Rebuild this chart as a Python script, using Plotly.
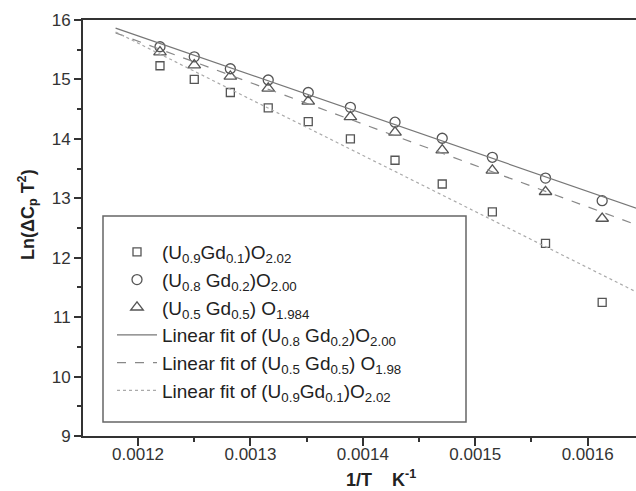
import numpy as np
import plotly.graph_objects as go

# inverse temperature (1/T, K^-1)
inv_T = [0.0012195, 0.0012500, 0.0012821, 0.0013158, 0.0013514, 0.0013889,
         0.0014286, 0.0014706, 0.0015152, 0.0015625, 0.0016129]

# Ln(dCp T^2)
y_gd01 = [15.23, 15.00, 14.78, 14.52, 14.29, 14.00, 13.64, 13.24, 12.77, 12.24, 11.25]
y_gd02 = [15.55, 15.38, 15.18, 14.99, 14.78, 14.53, 14.28, 14.01, 13.69, 13.34, 12.96]
y_gd05 = [15.46, 15.24, 15.05, 14.85, 14.63, 14.37, 14.11, 13.81, 13.47, 13.11, 12.66]

x_ticks = [0.0012, 0.0013, 0.0014, 0.0015, 0.0016]
x_tick_labels = ["0.0012", "0.0013", "0.0014", "0.0015", "0.0016"]
y_ticks = [9, 10, 11, 12, 13, 14, 15, 16]

fit_x_range = [0.00118, 0.00166]

FONT = "Arial, Liberation Sans, sans-serif"
MK = "#555555"

def fit_line(x, y):
    k, b = np.polyfit(np.array(x), np.array(y), 1)
    xs = np.array(fit_x_range)
    return xs, k * xs + b

fig = go.Figure()

fig.add_trace(go.Scatter(x=inv_T, y=y_gd01, mode="markers",
    name="(U<sub>0.9</sub>Gd<sub>0.1</sub>)O<sub>2.02</sub>",
    marker=dict(symbol="square-open", size=8, color=MK, line=dict(width=1.3))))
fig.add_trace(go.Scatter(x=inv_T, y=y_gd02, mode="markers",
    name="(U<sub>0.8</sub> Gd<sub>0.2</sub>)O<sub>2.00</sub>",
    marker=dict(symbol="circle-open", size=10, color=MK, line=dict(width=1.3))))
fig.add_trace(go.Scatter(x=inv_T, y=y_gd05, mode="markers",
    name="(U<sub>0.5</sub> Gd<sub>0.5</sub>) O<sub>1.984</sub>",
    marker=dict(symbol="triangle-up-open", size=11, color=MK, line=dict(width=1.3))))

fx, fy = fit_line(inv_T, y_gd02)
fig.add_trace(go.Scatter(x=fx, y=fy, mode="lines",
    name="Linear fit of (U<sub>0.8</sub> Gd<sub>0.2</sub>)O<sub>2.00</sub>",
    line=dict(color="#777777", width=1.2)))
fx, fy = fit_line(inv_T, y_gd05)
fig.add_trace(go.Scatter(x=fx, y=fy, mode="lines",
    name="Linear fit of (U<sub>0.5</sub> Gd<sub>0.5</sub>) O<sub>1.98</sub>",
    line=dict(color="#888888", width=1.2, dash="dash")))
fx, fy = fit_line(inv_T, y_gd01)
fig.add_trace(go.Scatter(x=fx, y=fy, mode="lines",
    name="Linear fit of (U<sub>0.9</sub>Gd<sub>0.1</sub>)O<sub>2.02</sub>",
    line=dict(color="#aaaaaa", width=1.2, dash="dot")))

L, T, R, B = 83, 20, 636, 436
W, H = 636, 491
pw, ph = R - L, B - T

def px2paper(x, y):
    return (x - L) / pw, (B - y) / ph

x0, y0 = px2paper(103, 422)
x1, y1 = px2paper(466, 216)
lx, ly = px2paper(112, 233)

fig.update_layout(
    width=W, height=H,
    margin=dict(l=L, r=W - R, t=T, b=H - B),
    paper_bgcolor="white", plot_bgcolor="white",
    font=dict(family=FONT, size=17, color="#222222"),
    showlegend=True,
    legend=dict(x=lx, y=ly, xanchor="left", yanchor="top",
                bgcolor="rgba(0,0,0,0)", borderwidth=0,
                font=dict(family=FONT, size=19, color="#222222"),
                itemwidth=40, tracegroupgap=0),
    shapes=[dict(type="rect", xref="paper", yref="paper",
                 x0=x0, y0=y0, x1=x1, y1=y1,
                 line=dict(color="#666666", width=1.5), fillcolor="rgba(0,0,0,0)")],
    xaxis=dict(range=[0.001151, 0.001643], tickvals=x_ticks, ticktext=x_tick_labels,
               showline=True, linecolor="#333333", linewidth=2, mirror=True,
               ticks="outside", ticklen=8, tickwidth=1.5, tickcolor="#333333",
               ticklabelstandoff=-6,
               minor=dict(dtick=0.00005, ticks="outside", ticklen=4, tickwidth=1.5, tickcolor="#333333"),
               showgrid=False, zeroline=False,
               tickfont=dict(family=FONT, size=17, color="#333333")),
    yaxis=dict(range=[9, 16], tickvals=y_ticks,
               showline=True, linecolor="#333333", linewidth=2,
               ticks="outside", ticklen=7, tickwidth=1.5, tickcolor="#333333",
               minor=dict(dtick=0.5, ticks="outside", ticklen=4, tickwidth=1.5, tickcolor="#333333"),
               showgrid=False, zeroline=False,
               tickfont=dict(family=FONT, size=17, color="#333333")),
    annotations=[
        dict(text="<b>Ln(ΔC<sub>p</sub> T<sup>2</sup>)</b>", xref="paper", yref="paper",
             x=(27 - L) / pw, y=(B - 215) / ph, textangle=-90, showarrow=False,
             font=dict(family=FONT, size=18, color="#222222"),
             xanchor="center", yanchor="middle"),
        dict(text="<b>1/T    K<sup>-1</sup></b>", xref="paper", yref="paper",
             x=(381 - L) / pw, y=(B - 478) / ph, showarrow=False,
             font=dict(family=FONT, size=18, color="#222222"),
             xanchor="center", yanchor="middle"),
    ],
)

fig.write_html("out.html")
